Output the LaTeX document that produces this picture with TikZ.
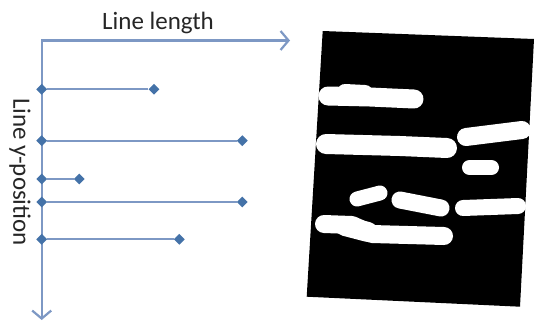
\documentclass[tikz,border=0pt]{standalone}
\usepackage{fontspec}
\setmainfont{Carlito}
\usetikzlibrary{arrows.meta,shapes.geometric}
\definecolor{axisblue}{HTML}{7D98C4}
\definecolor{markblue}{HTML}{4472A8}
\begin{document}
\begin{tikzpicture}[x=1pt,y=-1pt,
  barb/.tip={Straight Barb[length=8pt,width=19pt,line width=2.2pt]},
  axis/.style={draw=axisblue, line width=2.4pt, barb-barb},
  seg/.style={draw=axisblue, line width=2.2pt},
  dot/.style={diamond, fill=markblue, inner sep=0pt, minimum size=11pt},
  lbl/.style={font=\fontsize{25}{30}\selectfont, text=black!85, inner sep=0pt},
  blob/.style={draw=white, line width=#1, line cap=round, line join=round}]
\useasboundingbox (0,0) rectangle (535,322);

% axes
\coordinate (o) at (41.7,40.5);
\coordinate (xend) at (290,40.5);
\coordinate (yend) at (41.7,320);
\draw[axis] (xend) -- (o) -- (yend);
\node[lbl] (xlabel) at (158,23) {Line length};
\node[lbl, rotate=-90] (ylabel) at (20,172) {Line y-position};

% detected lines: y-position and length
\foreach \i/\y/\len in {1/89.3/154, 2/140.7/242.3, 3/179/79.3, 4/202/242.3, 5/239.3/179.3}{
  \node[dot] (s\i) at (41.7,\y) {};
  \node[dot] (e\i) at (\len,\y) {};
  \draw[seg] (s\i) -- (e\i);
}

% binarised text-line image
\fill[black] (322.7,31) -- (534,39) -- (520,306.7) -- (306.7,296.7) -- cycle;
\draw[blob=19pt] (328,96) -- (370,97) -- (414,99);
\draw[blob=16pt] (345,92) -- (365,93);
\draw[blob=20pt] (326,144) -- (400,146) -- (447,148);
\draw[blob=18pt] (466,137) -- (522,130);
\draw[blob=15pt] (469.5,167.5) -- (491.5,167.5);
\draw[blob=15pt] (357,199) -- (380,193);
\draw[blob=17pt] (400,200) -- (441,208);
\draw[blob=16pt] (463,208) -- (518,206);
\draw[blob=18pt] (324,224) -- (352,225) -- (372,234) -- (444,236);
\draw[blob=20pt] (345,226) -- (368,232);
\end{tikzpicture}
\end{document}
